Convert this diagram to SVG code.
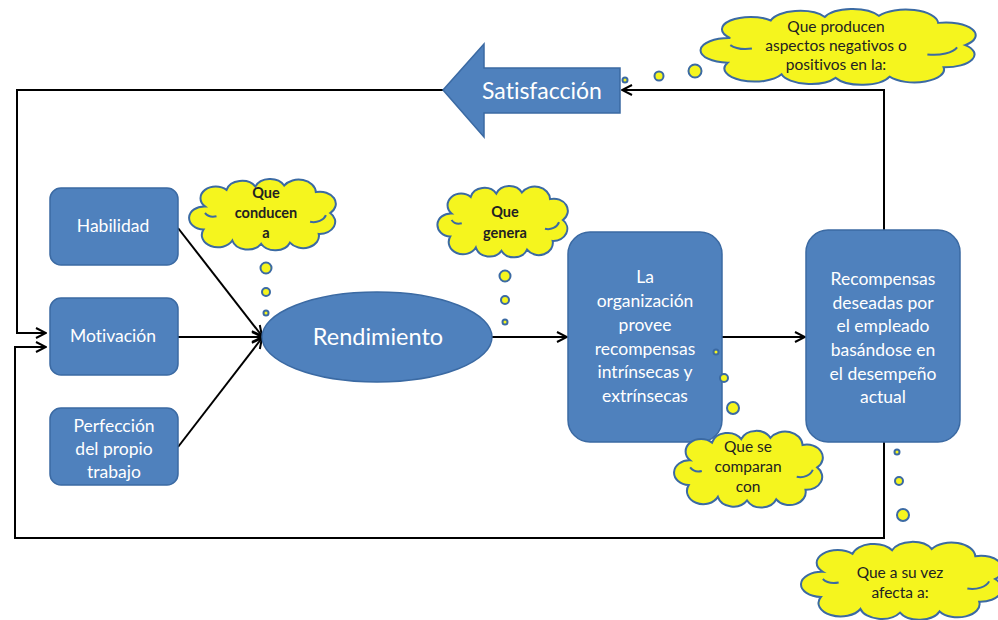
<svg xmlns="http://www.w3.org/2000/svg" xmlns:xlink="http://www.w3.org/1999/xlink" width="998" height="620" viewBox="0 0 998 620">
<style>
text{font-variant-ligatures:none}
.box{fill:#4F81BD;stroke:#3B6AA3;stroke-width:1.5}
.wt{fill:#ffffff;font-family:Lato,"Liberation Sans",sans-serif;text-anchor:middle}
.ct{fill:#222;font-family:Lato,"Liberation Sans",sans-serif;font-size:15.5px;text-anchor:middle}
.cb{font-weight:bold;font-size:14.5px}
.ln{fill:none;stroke:#000;stroke-width:2}
.bub{fill:#F5F51E;stroke:#3B6AA3;stroke-width:2}
.cloud{fill:#F5F51E;stroke:#3B6AA3;stroke-width:2;vector-effect:non-scaling-stroke}
.cin{fill:none;stroke:#3B6AA3;stroke-width:2;vector-effect:non-scaling-stroke}
</style>
<defs>
<marker id="ah" viewBox="0 0 12 12" refX="11" refY="6" markerWidth="12" markerHeight="12" markerUnits="userSpaceOnUse" orient="auto">
<path d="M1,1 L11,6 L1,11" fill="none" stroke="#000" stroke-width="2"/>
</marker>
<g id="cloud">
<path class="cloud" d="M9,24 A9,9 0 0 1 24,9 A11,11 0 0 1 44,6 A11,11 0 0 1 64,5 A12,12 0 0 1 86,11 A11,11 0 0 1 96,30 A11,11 0 0 1 88,49 A11,11 0 0 1 68,57 A11,11 0 0 1 48,58 A11,11 0 0 1 28,55 A11,11 0 0 1 8,45 A10,10 0 0 1 9,24 Z"/>
<path class="cin" d="M82,38 A9,9 0 0 0 93,32"/>
<path class="cin" d="M9,30 A7,7 0 0 0 17,33"/>
</g>
</defs>

<g id="connectors">
<polyline class="ln" points="443,90 17,90 17,333 46,333" marker-end="url(#ah)"/>
<polyline class="ln" points="884,230 884,90 622,90" marker-end="url(#ah)"/>
<polyline class="ln" points="884,442 884,538 15,538 15,347 46,347" marker-end="url(#ah)"/>
<line class="ln" x1="178" y1="228" x2="262" y2="336" marker-end="url(#ah)"/>
<line class="ln" x1="178" y1="337" x2="262" y2="337" marker-end="url(#ah)"/>
<line class="ln" x1="178" y1="447" x2="262" y2="338" marker-end="url(#ah)"/>
<line class="ln" x1="492" y1="337" x2="567" y2="337" marker-end="url(#ah)"/>
<line class="ln" x1="722" y1="337" x2="805" y2="337" marker-end="url(#ah)"/>
</g>

<g id="satisfaccion">
<polygon class="box" points="443,90 484,44 484,68 620,68 620,113 484,113 484,137"/>
<text class="wt" x="542" y="99" font-size="23">Satisfacción</text>
</g>

<g id="habilidad">
<rect class="box" x="50" y="188" width="128" height="77" rx="11"/>
<text class="wt" x="113" y="232" font-size="17.5">Habilidad</text>
</g>
<g id="motivacion">
<rect class="box" x="50" y="298" width="128" height="77" rx="11"/>
<text class="wt" x="113" y="342" font-size="17.5">Motivación</text>
</g>
<g id="perfeccion">
<rect class="box" x="50" y="408" width="128" height="77" rx="11"/>
<text class="wt" font-size="17.5"><tspan x="114" y="432">Perfección</tspan><tspan x="114" y="455">del propio</tspan><tspan x="114" y="478">trabajo</tspan></text>
</g>

<g id="rendimiento">
<ellipse class="box" cx="377" cy="337" rx="115" ry="45"/>
<text class="wt" x="378" y="345" font-size="23.5">Rendimiento</text>
</g>

<g id="organizacion">
<rect class="box" x="568" y="232" width="154" height="210" rx="22"/>
<text class="wt" font-size="17.5"><tspan x="645" y="283">La</tspan><tspan x="645" y="307">organización</tspan><tspan x="645" y="331">provee</tspan><tspan x="645" y="355">recompensas</tspan><tspan x="645" y="378">intrínsecas y</tspan><tspan x="645" y="402">extrínsecas</tspan></text>
</g>

<g id="recompensas">
<rect class="box" x="806" y="230" width="154" height="212" rx="22"/>
<text class="wt" font-size="17.5"><tspan x="883" y="285">Recompensas</tspan><tspan x="883" y="309">deseadas por</tspan><tspan x="883" y="332">el empleado</tspan><tspan x="883" y="356">basándose en</tspan><tspan x="883" y="380">el desempeño</tspan><tspan x="883" y="403">actual</tspan></text>
</g>

<g id="cloud-producen">
<circle class="bub" cx="625" cy="80" r="2.5"/>
<circle class="bub" cx="659" cy="76" r="4.5"/>
<circle class="bub" cx="695" cy="71" r="6.5"/>
<use xlink:href="#cloud" transform="translate(706,10) scale(2.7,1.17)"/>
<text class="ct"><tspan x="836" y="32">Que producen</tspan><tspan x="836" y="51">aspectos negativos o</tspan><tspan x="836" y="70">positivos en la:</tspan></text>
</g>

<g id="cloud-conducen">
<circle class="bub" cx="266" cy="268" r="5.5"/>
<circle class="bub" cx="266" cy="292" r="4"/>
<circle class="bub" cx="266" cy="313" r="2.5"/>
<use xlink:href="#cloud" transform="translate(192,180) scale(1.44,1.1)"/>
<text class="ct cb"><tspan x="266" y="198">Que</tspan><tspan x="266" y="218">conducen</tspan><tspan x="266" y="238">a</tspan></text>
</g>

<g id="cloud-genera">
<circle class="bub" cx="505" cy="276" r="5.5"/>
<circle class="bub" cx="505" cy="300" r="4"/>
<circle class="bub" cx="505" cy="322" r="2.5"/>
<use xlink:href="#cloud" transform="translate(440,187) scale(1.28,1.1)"/>
<text class="ct cb"><tspan x="505" y="217">Que</tspan><tspan x="505" y="238">genera</tspan></text>
</g>

<g id="cloud-comparan">
<circle class="bub" cx="716" cy="352" r="2.5"/>
<circle class="bub" cx="724" cy="378" r="4"/>
<circle class="bub" cx="733" cy="408" r="6"/>
<use xlink:href="#cloud" transform="translate(677,432) scale(1.46,1.18)"/>
<text class="ct"><tspan x="748" y="452">Que se</tspan><tspan x="748" y="472">comparan</tspan><tspan x="748" y="492">con</tspan></text>
</g>

<g id="cloud-afecta">
<circle class="bub" cx="897" cy="452" r="2.5"/>
<circle class="bub" cx="899" cy="481" r="4"/>
<circle class="bub" cx="903" cy="515" r="6"/>
<use xlink:href="#cloud" transform="translate(805,543) scale(1.98,1.2)"/>
<text class="ct"><tspan x="900" y="578">Que a su vez</tspan><tspan x="900" y="598">afecta a:</tspan></text>
</g>
</svg>
